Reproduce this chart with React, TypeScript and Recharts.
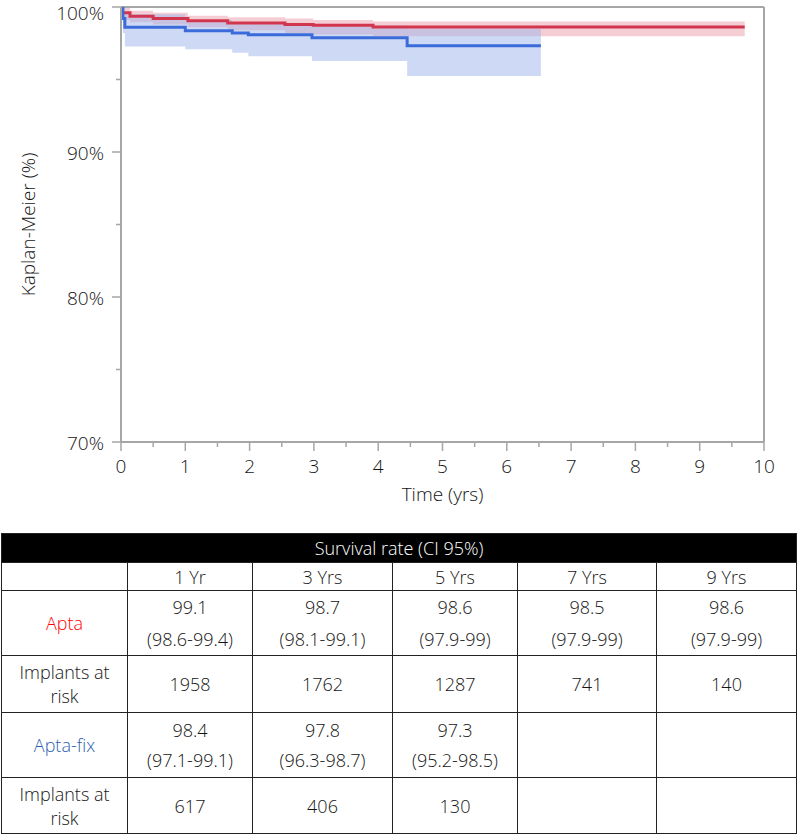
import { Area, ComposedChart, Line, ReferenceLine, XAxis, YAxis } from "recharts";

// Kaplan-Meier curves (time in years, survival in %)
const aptaTime = [0, 0.02, 0.14, 0.5, 1.04, 1.66, 2.55, 2.99, 3.92, 9.7];
const aptaSurv = [100, 99.6, 99.36, 99.2, 99.06, 98.9, 98.8, 98.74, 98.62, 98.62];
const aptaUpper = [100, 99.95, 99.75, 99.6, 99.4, 99.3, 99.2, 99.1, 99.0, 99.0];
const aptaLower = [100, 99.1, 98.95, 98.8, 98.6, 98.4, 98.2, 98.1, 97.98, 97.98];

const fixTime = [0, 0.03, 0.06, 1.0, 1.73, 1.98, 2.97, 4.45, 6.53];
const fixSurv = [100, 99.2, 98.6, 98.37, 98.2, 98.08, 97.88, 97.33, 97.33];
const fixUpper = [100, 99.7, 99.5, 99.1, 98.95, 98.85, 98.7, 98.5, 98.5];
const fixLower = [100, 98.2, 97.28, 97.08, 96.85, 96.6, 96.28, 95.24, 95.24];

const xTicks = [0, 0.5, 1, 1.5, 2, 2.5, 3, 3.5, 4, 4.5, 5, 5.5, 6, 6.5, 7, 7.5, 8, 8.5, 9, 9.5, 10];
const yTicks = [70, 75, 80, 85, 90, 95, 100];

// table
const yearLabels = ["1 Yr", "3 Yrs", "5 Yrs", "7 Yrs", "9 Yrs"];
const aptaRates = ["99.1", "98.7", "98.6", "98.5", "98.6"];
const aptaCI = ["(98.6-99.4)", "(98.1-99.1)", "(97.9-99)", "(97.9-99)", "(97.9-99)"];
const aptaRisk = ["1958", "1762", "1287", "741", "140"];
const fixRates = ["98.4", "97.8", "97.3", "", ""];
const fixCI = ["(97.1-99.1)", "(96.3-98.7)", "(95.2-98.5)", "", ""];
const fixRisk = ["617", "406", "130", "", ""];

const AXIS = "#a6a6a6";
const FONT = '"Open Sans", "Noto Sans", sans-serif';
const TXT = "#151515";

const aptaLine = aptaTime.map((t, i) => ({ t, s: aptaSurv[i] }));
const aptaBand = aptaTime.map((t, i) => ({ t, band: [aptaLower[i], aptaUpper[i]] }));
const fixLine = fixTime.map((t, i) => ({ t, s: fixSurv[i] }));
const fixBand = fixTime.map((t, i) => ({ t, band: [fixLower[i], fixUpper[i]] }));

const XTick = (props: any) => {
  const { x, y, payload } = props;
  const major = Number.isInteger(payload.value);
  return (
    <g>
      <line x1={x} x2={x} y1={y} y2={y + (major ? 9 : 5)} stroke={AXIS} strokeWidth={1.5} />
      {major && (
        <text x={x} y={y + 31} textAnchor="middle" fontSize={19} fontWeight={300} fill={TXT} fontFamily={FONT}>
          {payload.value}
        </text>
      )}
    </g>
  );
};

const YTick = (props: any) => {
  const { x, y, payload } = props;
  const major = payload.value % 10 === 0;
  const dy = payload.value === 100 ? 6 : 1;
  return (
    <g>
      <line x1={x - (major ? 9 : 5)} x2={x} y1={y} y2={y} stroke={AXIS} strokeWidth={1.5} />
      {major && (
        <text x={x - 17} y={y + dy} textAnchor="end" dominantBaseline="central" fontSize={19} fontWeight={300} fill={TXT} fontFamily={FONT}>
          {payload.value + "%"}
        </text>
      )}
    </g>
  );
};

const YLabel = (props: any) => {
  const vb = props.viewBox || { x: 0, y: 7, width: 121, height: 435 };
  const cx = vb.x + 28;
  const cy = vb.y + vb.height / 2;
  return (
    <text x={cx} y={cy} transform={`rotate(-90 ${cx} ${cy})`} textAnchor="middle" dominantBaseline="central" fontSize={19} fontWeight={300} fill={TXT} fontFamily={FONT}>
      Kaplan-Meier (%)
    </text>
  );
};

const XLabel = (props: any) => {
  const vb = props.viewBox || { x: 121, y: 442, width: 643, height: 70 };
  return (
    <text x={vb.x + vb.width / 2} y={vb.y + 59} textAnchor="middle" fontSize={19} fontWeight={300} fill={TXT} fontFamily={FONT}>
      Time (yrs)
    </text>
  );
};

const cell: React.CSSProperties = {
  border: "1px solid #222",
  textAlign: "center",
  verticalAlign: "middle",
  padding: 0,
  color: TXT,
};

const TwoLine = ({ a, b, lh }: { a: string; b: string; lh: number }) => (
  <div style={{ lineHeight: `${lh}px` }}>
    <div>{a}</div>
    <div>{b}</div>
  </div>
);

const App = () => {
  return (
    <div style={{ position: "absolute", left: 0, top: 0, width: 797, height: 834, background: "#fff", fontFamily: FONT }}>
      <ComposedChart width={797} height={512} margin={{ top: 7, right: 33, left: 0, bottom: 0 }}>
        <XAxis
          dataKey="t"
          type="number"
          domain={[0, 10]}
          ticks={xTicks}
          interval={0}
          allowDataOverflow
          height={70}
          tickSize={0}
          tickMargin={0}
          tickLine={false}
          tick={<XTick />}
          axisLine={{ stroke: AXIS, strokeWidth: 2 }}
          label={(p: any) => <XLabel {...p} />}
        />
        <YAxis
          type="number"
          domain={[70, 100]}
          ticks={yTicks}
          interval={0}
          allowDataOverflow
          width={121}
          tickSize={0}
          tickMargin={0}
          tickLine={false}
          tick={<YTick />}
          axisLine={{ stroke: AXIS, strokeWidth: 2 }}
          label={(p: any) => <YLabel {...p} />}
        />
        <ReferenceLine y={100} stroke={AXIS} strokeWidth={2} />
        <ReferenceLine x={10} stroke={AXIS} strokeWidth={2} />
        <Area data={aptaBand} dataKey="band" type="stepAfter" stroke="none" fill="#e8919f" fillOpacity={0.45} isAnimationActive={false} />
        <Line data={aptaLine} dataKey="s" type="stepAfter" stroke="#d2364f" strokeWidth={3} dot={false} activeDot={false} isAnimationActive={false} />
        <Area data={fixBand} dataKey="band" type="stepAfter" stroke="none" fill="#9db5ec" fillOpacity={0.5} isAnimationActive={false} />
        <Line data={fixLine} dataKey="s" type="stepAfter" stroke="#3b6bd9" strokeWidth={3} dot={false} activeDot={false} isAnimationActive={false} />
      </ComposedChart>

      <table
        style={{
          position: "absolute",
          top: 533,
          left: 1,
          width: 795,
          borderCollapse: "collapse",
          tableLayout: "fixed",
          fontSize: 18,
          fontWeight: 300,
          fontFamily: FONT,
        }}
      >
        <colgroup>
          <col style={{ width: 126 }} />
          <col style={{ width: 125 }} />
          <col style={{ width: 140 }} />
          <col style={{ width: 125 }} />
          <col style={{ width: 139 }} />
          <col style={{ width: 140 }} />
        </colgroup>
        <tbody>
          <tr style={{ height: 29 }}>
            <td colSpan={6} style={{ ...cell, background: "#000", color: "#fff" }}>
              Survival rate (CI 95%)
            </td>
          </tr>
          <tr style={{ height: 28 }}>
            <td style={cell}></td>
            {yearLabels.map((y) => (
              <td key={y} style={cell}>{y}</td>
            ))}
          </tr>
          <tr style={{ height: 64 }}>
            <td style={{ ...cell, color: "#ff0000" }}>Apta</td>
            {aptaRates.map((r, i) => (
              <td key={i} style={cell}>
                <TwoLine a={r} b={aptaCI[i]} lh={32} />
              </td>
            ))}
          </tr>
          <tr style={{ height: 57 }}>
            <td style={cell}>
              <TwoLine a="Implants at" b="risk" lh={24} />
            </td>
            {aptaRisk.map((r, i) => (
              <td key={i} style={cell}>{r}</td>
            ))}
          </tr>
          <tr style={{ height: 65 }}>
            <td style={{ ...cell, color: "#2f5fb3" }}>Apta-fix</td>
            {fixRates.map((r, i) => (
              <td key={i} style={cell}>
                {r && <TwoLine a={r} b={fixCI[i]} lh={30} />}
              </td>
            ))}
          </tr>
          <tr style={{ height: 56 }}>
            <td style={cell}>
              <TwoLine a="Implants at" b="risk" lh={24} />
            </td>
            {fixRisk.map((r, i) => (
              <td key={i} style={cell}>{r}</td>
            ))}
          </tr>
        </tbody>
      </table>
    </div>
  );
};

export default App;
